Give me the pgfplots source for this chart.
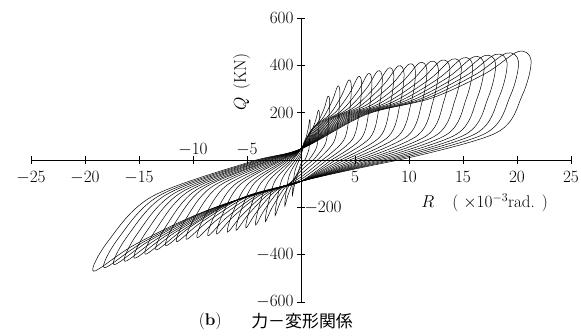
\documentclass[border=0pt]{standalone}
\usepackage{fontspec}
\usepackage{pgfplots}
\pgfplotsset{compat=1.18}
\newfontfamily\cjk{Noto Sans CJK JP}
\begin{document}
\begin{tikzpicture}
\useasboundingbox (-31bp,-34bp) rectangle (550bp,302bp);
\begin{axis}[
  at={(0,0)}, anchor=south west,
  scale only axis, width=540bp, height=284bp,
  xmin=-25, xmax=25, ymin=-600, ymax=600,
  axis lines=middle, axis line style={-, line width=0.6pt, black},
  clip=false,
  xtick={-25,-20,-15,5,10,15,20,25},
  ytick={-600,-400,200,400,600},
  xticklabel style={yshift=-4bp},
  extra x ticks={-10,-5},
  extra x tick style={xticklabel style={anchor=south, yshift=9bp}},
  extra y ticks={-200},
  extra y tick style={yticklabel style={anchor=west, xshift=4bp}},
  tick align=center, major tick length=8bp,
  tick style={black, line width=0.6pt},
  tick label style={font=\fontsize{17}{17}\selectfont},
  lp/.style={black, line width=0.5pt, smooth, tension=0.55, no markers},
]
\addplot[lp] coordinates {(0.36,0)(0,-15)(-0.36,-68)(-0.64,-114)(-0.8,-150)(-0.74,-110)(-0.58,-50)(-0.2,-3)(0,15)(0.24,71)(0.48,97)(0.68,136)(0.8,170)(0.85,156)(0.82,102)(0.72,43)(0.36,0)};
\addplot[lp] coordinates {(0.72,0)(0,-30)(-0.68,-88)(-1.2,-148)(-1.5,-195)(-1.4,-142)(-1.08,-64)(-0.38,-4)(0,25)(0.48,88)(0.96,120)(1.36,168)(1.6,210)(1.7,193)(1.63,126)(1.44,53)(0.72,0)};
\addplot[lp] coordinates {(1.13,0)(0,-45)(-1.08,-106)(-1.92,-179)(-2.4,-235)(-2.23,-172)(-1.73,-78)(-0.6,-5)(0,38)(0.75,113)(1.5,154)(2.13,216)(2.5,270)(2.65,248)(2.55,162)(2.25,68)(1.13,0)};
\addplot[lp] coordinates {(1.53,0)(0,-60)(-1.49,-117)(-2.64,-198)(-3.3,-260)(-3.07,-190)(-2.38,-86)(-0.83,-5)(0,47)(1.02,131)(2.04,178)(2.89,250)(3.4,312)(3.6,287)(3.47,187)(3.06,78)(1.53,0)};
\addplot[lp] coordinates {(1.98,0)(0,-72)(-1.89,-124)(-3.36,-209)(-4.2,-275)(-3.91,-201)(-3.02,-91)(-1.05,-6)(0,47)(1.32,142)(2.64,192)(3.74,270)(4.4,337)(4.66,310)(4.49,202)(3.96,84)(1.98,0)};
\addplot[lp] coordinates {(2.39,0)(0,-82)(-2.3,-129)(-4.08,-218)(-5.1,-287)(-4.74,-210)(-3.67,-95)(-1.28,-6)(0,47)(1.59,148)(3.18,201)(4.5,282)(5.3,352)(5.62,324)(5.41,211)(4.77,88)(2.39,0)};
\addplot[lp] coordinates {(2.79,0)(0,-90)(-2.7,-134)(-4.8,-226)(-6,-297)(-5.58,-217)(-4.32,-98)(-1.5,-6)(0,47)(1.86,153)(3.72,207)(5.27,291)(6.2,364)(6.57,335)(6.32,218)(5.58,91)(2.79,0)};
\addplot[lp] coordinates {(3.2,0)(0,-90)(-3.06,-137)(-5.44,-232)(-6.8,-305)(-6.32,-223)(-4.9,-101)(-1.7,-6)(0,47)(2.13,158)(4.26,214)(6.04,301)(7.1,376)(7.53,346)(7.24,226)(6.39,94)(3.2,0)};
\addplot[lp] coordinates {(3.65,0)(0,-90)(-3.51,-141)(-6.24,-238)(-7.8,-313)(-7.25,-228)(-5.62,-103)(-1.95,-6)(0,47)(2.43,163)(4.86,221)(6.89,310)(8.1,388)(8.59,357)(8.26,233)(7.29,97)(3.65,0)};
\addplot[lp] coordinates {(4.05,0)(0,-90)(-3.87,-144)(-6.88,-243)(-8.6,-320)(-8,-234)(-6.19,-106)(-2.15,-6)(0,47)(2.7,167)(5.4,226)(7.65,318)(9,397)(9.54,365)(9.18,238)(8.1,99)(4.05,0)};
\addplot[lp] coordinates {(4.5,0)(0,-90)(-4.32,-148)(-7.68,-249)(-9.6,-328)(-8.93,-239)(-6.91,-108)(-2.4,-7)(0,47)(3,170)(6,231)(8.5,324)(10,405)(10.6,373)(10.2,243)(9,101)(4.5,0)};
\addplot[lp] coordinates {(4.95,0)(0,-90)(-4.77,-151)(-8.48,-255)(-10.6,-335)(-9.86,-245)(-7.63,-111)(-2.65,-7)(0,47)(3.3,173)(6.6,234)(9.35,329)(11,411)(11.66,378)(11.22,247)(9.9,103)(4.95,0)};
\addplot[lp] coordinates {(5.4,0)(0,-90)(-5.18,-155)(-9.2,-262)(-11.5,-345)(-10.7,-252)(-8.28,-114)(-2.88,-7)(0,47)(3.6,175)(7.2,237)(10.2,333)(12,416)(12.72,383)(12.24,250)(10.8,104)(5.4,0)};
\addplot[lp] coordinates {(5.85,0)(0,-90)(-5.63,-163)(-10,-275)(-12.5,-362)(-11.63,-264)(-9,-119)(-3.13,-7)(0,47)(3.9,177)(7.8,240)(11.05,337)(13,421)(13.78,387)(13.26,253)(11.7,105)(5.85,0)};
\addplot[lp] coordinates {(6.3,0)(0,-90)(-6.03,-171)(-10.72,-289)(-13.4,-380)(-12.46,-277)(-9.65,-125)(-3.35,-8)(0,47)(4.2,179)(8.4,243)(11.9,341)(14,426)(14.84,392)(14.28,256)(12.6,107)(6.3,0)};
\addplot[lp] coordinates {(6.75,0)(0,-90)(-6.48,-179)(-11.52,-302)(-14.4,-398)(-13.39,-291)(-10.37,-131)(-3.6,-8)(0,47)(4.5,181)(9,246)(12.75,345)(15,431)(15.9,397)(15.3,259)(13.5,108)(6.75,0)};
\addplot[lp] coordinates {(7.2,0)(0,-90)(-6.93,-187)(-12.32,-315)(-15.4,-415)(-14.32,-303)(-11.09,-137)(-3.85,-8)(0,47)(4.8,183)(9.6,249)(13.6,349)(16,436)(16.96,401)(16.32,262)(14.4,109)(7.2,0)};
\addplot[lp] coordinates {(7.65,0)(0,-90)(-7.34,-193)(-13.04,-325)(-16.3,-428)(-15.16,-312)(-11.74,-141)(-4.08,-9)(0,47)(5.1,185)(10.2,251)(14.45,353)(17,441)(18.02,406)(17.34,265)(15.3,110)(7.65,0)};
\addplot[lp] coordinates {(8.1,0)(0,-90)(-7.79,-199)(-13.84,-336)(-17.3,-442)(-16.09,-323)(-12.46,-146)(-4.33,-9)(0,47)(5.4,187)(10.8,254)(15.3,357)(18,446)(19.08,410)(18.36,268)(16.2,112)(8.1,0)};
\addplot[lp] coordinates {(8.55,0)(0,-90)(-8.19,-205)(-14.56,-346)(-18.2,-455)(-16.93,-332)(-13.1,-150)(-4.55,-9)(0,47)(5.7,189)(11.4,257)(16.15,361)(19,451)(20.14,415)(19.38,271)(17.1,113)(8.55,0)};
\addplot[lp] coordinates {(9.05,0)(0,-90)(-8.64,-212)(-15.36,-357)(-19.2,-470)(-17.86,-343)(-13.82,-155)(-4.8,-9)(0,47)(6.03,192)(12.06,261)(17.09,366)(20.1,458)(21.3,421)(20.5,275)(18.09,115)(9.05,0)};
\node[rotate=90, font=\fontsize{17}{17}\selectfont] at (axis cs:-5.5,330) {$Q$\hspace{7bp}(KN)};
\node[font=\fontsize{17}{17}\selectfont] at (axis cs:17,-180) {$R$\hspace{18bp}(\hspace{5bp}$\times10^{-3}$rad.\hspace{7bp})};
\node[font=\fontsize{17}{17}\selectfont] at (axis cs:-8.4,-680) {(\textbf{b})};
\node[font=\fontsize{17}{17}\selectfont\cjk] at (axis cs:0.1,-680) {力－変形関係};
\end{axis}
\end{tikzpicture}
\end{document}
